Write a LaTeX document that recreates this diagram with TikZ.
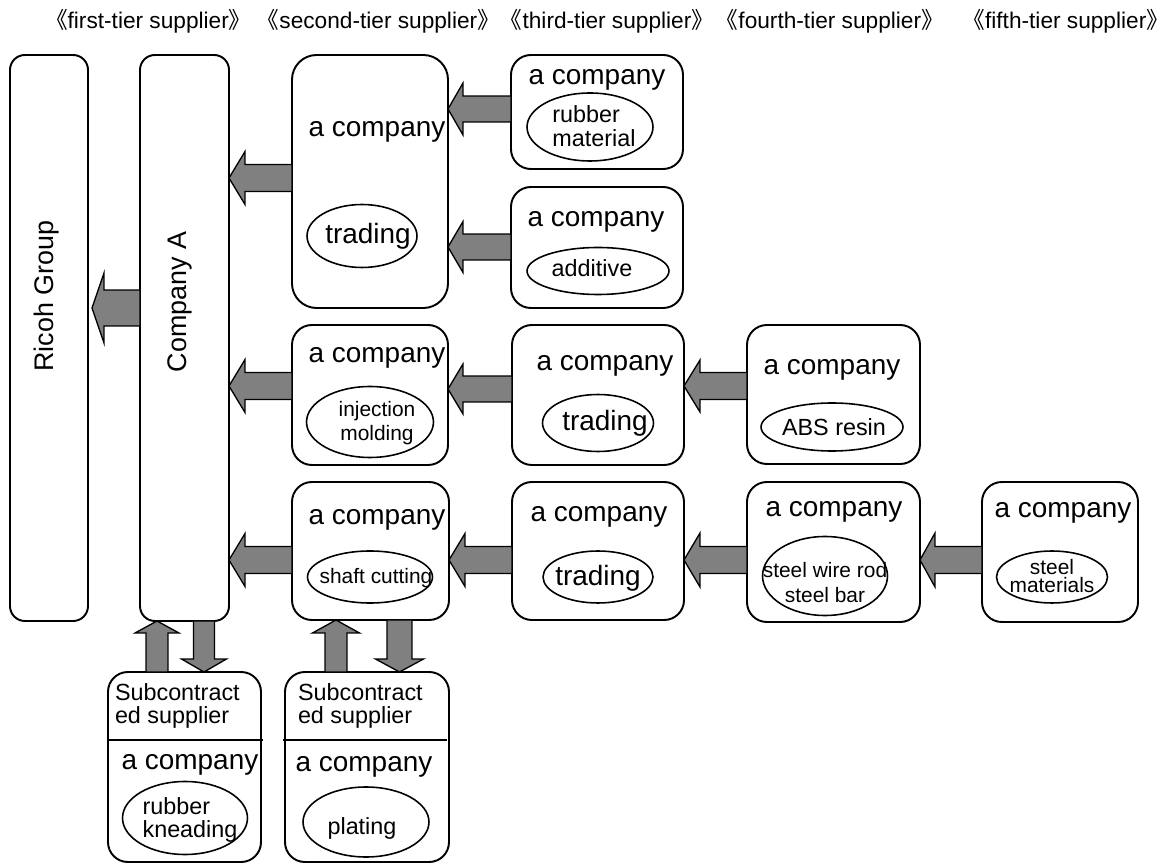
\documentclass[tikz,border=0pt]{standalone}
\usepackage{fontspec}
\setmainfont{Liberation Sans}
\newfontfamily\cjk{Noto Sans CJK SC}
\usetikzlibrary{fit,calc,shapes.geometric}
\definecolor{arrowgray}{HTML}{808080}
\newcommand\fbig{\fontsize{15.9pt}{18pt}\selectfont}
\newcommand\fvert{\fontsize{15.3pt}{18pt}\selectfont}
\newcommand\fmid{\fontsize{13.3pt}{13.6pt}\selectfont}
\newcommand\fsml{\fontsize{11.9pt}{13.6pt}\selectfont}
\newcommand\fhdr{\fontsize{12.9pt}{14pt}\selectfont}
\def\pu{0.56693pt}
% left-pointing block arrow: from, to, y, body half, head half, head length, gap (px)
\newcommand\lblk[7]{%
  \draw[blk] let \p1=($(#2.east)+(#7,0)$), \p2=(#1.west), \p3=(0,#3) in
  (\x1,\y3) -- (\x1+#6*\pu,\y3+#5*\pu) -- (\x1+#6*\pu,\y3+#4*\pu) -- (\x2,\y3+#4*\pu)
  -- (\x2,\y3-#4*\pu) -- (\x1+#6*\pu,\y3-#4*\pu) -- (\x1+#6*\pu,\y3-#5*\pu) -- cycle;}
% upward block arrow: from (below), to (above), x, body half, head half, head length
\newcommand\ublk[6]{%
  \draw[blk] let \p1=(#2.south), \p2=(#1.north), \p3=(#3,0) in
  (\x3,\y1) -- (\x3+#5*\pu,\y1-#6*\pu) -- (\x3+#4*\pu,\y1-#6*\pu) -- (\x3+#4*\pu,\y2)
  -- (\x3-#4*\pu,\y2) -- (\x3-#4*\pu,\y1-#6*\pu) -- (\x3-#5*\pu,\y1-#6*\pu) -- cycle;}
% downward block arrow: from (above), to (below), x, body half, head half, head length
\newcommand\dblk[6]{%
  \draw[blk] let \p1=(#2.north), \p2=(#1.south), \p3=(#3,0) in
  (\x3,\y1) -- (\x3+#5*\pu,\y1+#6*\pu) -- (\x3+#4*\pu,\y1+#6*\pu) -- (\x3+#4*\pu,\y2)
  -- (\x3-#4*\pu,\y2) -- (\x3-#4*\pu,\y1+#6*\pu) -- (\x3-#5*\pu,\y1+#6*\pu) -- cycle;}
\begin{document}
\begin{tikzpicture}[x=0.02cm,y=-0.02cm,
  box/.style={draw=black, line width=1.1pt, inner sep=0pt, outer sep=0pt, rounded corners=11.3pt},
  tallbox/.style={box, rounded corners=8.5pt},
  bigbox/.style={box, rounded corners=14pt},
  ell/.style={draw=black, ellipse, line width=0.9pt, inner sep=0pt, outer sep=0pt},
  txt/.style={inner sep=0pt, outer sep=0pt, font=\fbig},
  stxt/.style={inner sep=0pt, outer sep=0pt, font=\fsml, align=center},
  mtxt/.style={inner sep=0pt, outer sep=0pt, font=\fmid, align=center},
  hdr/.style={inner sep=0pt, outer sep=0pt, font=\fhdr, anchor=west},
  blk/.style={draw=black, fill=arrowgray, line width=0.75pt, line join=miter},
  divider/.style={draw=black, line width=1.1pt}]
\useasboundingbox (0,0) rectangle (1170,864);

% header
\node[hdr] (h1) at (45,21) {{\cjk 《}first-tier supplier{\cjk 》}};
\node[hdr] (h2) at ([xshift=3pt]h1.east) {{\cjk 《}second-tier supplier{\cjk 》}};
\node[hdr] (h3) at (h2.east) {{\cjk 《}third-tier supplier{\cjk 》}};
\node[hdr] (h4) at ([xshift=1pt]h3.east) {{\cjk 《}fourth-tier supplier{\cjk 》}};
\node[hdr, anchor=east] (h5) at (1169,21) {{\cjk 《}fifth-tier supplier{\cjk 》}};

% boxes
\node[tallbox, fit={(10,55) (88,621)}] (ricoh) {};
\node[tallbox, fit={(140,55) (229,621)}] (compA) {};
\node[bigbox, fit={(292,55) (448,308)}] (trad1) {};
\node[box, fit={(511,55) (683,169)}] (rub) {};
\node[box, fit={(511,187) (683,308)}] (add) {};
\node[box, fit={(292,325) (448,465)}] (inj) {};
\node[box, fit={(512,325) (684,465)}] (tr2) {};
\node[box, fit={(747,325) (920,464)}] (abs) {};
\node[box, fit={(292,482) (449,620)}] (shaft) {};
\node[box, fit={(512,482) (684,620)}] (tr3) {};
\node[box, fit={(747,482) (920,622)}] (wire) {};
\node[box, fit={(982,482) (1138,622)}] (steel) {};
\node[box, fit={(108,672) (261,862)}] (sub1) {};
\node[box, fit={(285,672) (449,862)}] (sub2) {};
\draw[divider] (108,740) -- (263,740);
\draw[divider] (283,740) -- (447,740);

% vertical labels
\node[txt, font=\fvert, rotate=90] (tricoh) at (47,296) {Ricoh Group};
\node[txt, font=\fvert, rotate=90] (tcompA) at (180,302) {Company A};

% "a company" labels
\node[txt] (ttrad1) at (377,132) {a company};
\node[txt] (trub) at (597,80) {a company};
\node[txt] (tadd) at (596,222) {a company};
\node[txt] (tinj) at (377,358) {a company};
\node[txt] (ttr2) at (605,366) {a company};
\node[txt] (tabs) at (832,370) {a company};
\node[txt] (tshaft) at (377,520) {a company};
\node[txt] (ttr3) at (599,517) {a company};
\node[txt] (twire) at (834,512) {a company};
\node[txt] (tsteel) at (1063,513) {a company};
\node[txt] (tsub1) at (190,765) {a company};
\node[txt] (tsub2) at (364,767) {a company};
\node[inner sep=0pt, outer sep=0pt, font=\fmid, align=left, anchor=west] (sc1) at (115,706) {Subcontract\\ed supplier};
\node[inner sep=0pt, outer sep=0pt, font=\fmid, align=left, anchor=west] (sc2) at (298,706) {Subcontract\\ed supplier};

% ellipses
\node[ell, minimum width=2.2cm, minimum height=1.26cm] (e1) at (362,236) {};
\node[ell, minimum width=2.52cm, minimum height=1.36cm] (erub) at (590,127) {};
\node[ell, minimum width=2.84cm, minimum height=0.94cm] (eadd) at (598,271) {};
\node[ell, minimum width=2.54cm, minimum height=1.42cm] (einj) at (370,422) {};
\node[ell, minimum width=2.22cm, minimum height=1.14cm] (etr2) at (598,423) {};
\node[ell, minimum width=2.84cm, minimum height=0.96cm] (eabs) at (832,427) {};
\node[ell, minimum width=2.5cm, minimum height=1.58cm] (ewire) at (825,576) {};
\node[ell, minimum width=2.22cm, minimum height=1.04cm] (esteel) at (1052,577) {};
\node[ell, minimum width=2.5cm, minimum height=1.04cm] (eshaft) at (370,577) {};
\node[ell, minimum width=2.2cm, minimum height=1.04cm] (etr3) at (598,577) {};
\node[ell, minimum width=2.5cm, minimum height=1.46cm] (esub1) at (185,818) {};
\node[ell, minimum width=2.52cm, minimum height=1.4cm] (esub2) at (366,822) {};

% ellipse texts
\node[txt] (l1) at (368,236) {trading};
\node[mtxt, align=left] (lrub) at (594,126) {rubber\\material};
\node[mtxt] (ladd) at (592,268) {additive};
\node[stxt] (linj) at (377,423) {injection\\molding};
\node[txt] (ltr2) at (605,423) {trading};
\node[mtxt] (labs) at (834,427) {ABS resin};
\node[stxt, font=\fontsize{11.9pt}{14.2pt}\selectfont] (lwire) at (825,583) {steel wire rod\\steel bar};
\node[stxt, font=\fontsize{11.9pt}{10.6pt}\selectfont] (lsteel) at (1052,576) {steel\\materials};
\node[stxt] (lshaft) at (376,578) {shaft cutting};
\node[txt] (ltr3) at (598,578) {trading};
\node[mtxt, align=left] (lsub1) at (190,820) {rubber\\kneading};
\node[mtxt] (lsub2) at (362,828) {plating};

% block arrows
\lblk{compA}{ricoh}{308}{18}{35}{12}{4}
\lblk{trad1}{compA}{178}{13.5}{26.5}{16}{0}
\lblk{rub}{trad1}{109}{13}{26}{15}{0}
\lblk{add}{trad1}{247}{13}{25.5}{15}{0}
\lblk{inj}{compA}{386}{13.5}{26.5}{16}{0}
\lblk{tr2}{inj}{389}{13}{25}{15}{0}
\lblk{abs}{tr2}{386}{13.5}{26}{16}{0}
\lblk{shaft}{compA}{560}{13.5}{26.5}{16}{0}
\lblk{tr3}{shaft}{560}{13.5}{26.5}{16}{0}
\lblk{wire}{tr3}{560}{13.5}{27}{16}{0}
\lblk{steel}{wire}{560}{13.5}{27}{15}{0}
\ublk{sub1}{compA}{157}{11}{22}{12}
\dblk{compA}{sub1}{204}{10.5}{22.5}{13}
\ublk{sub2}{shaft}{336}{11}{23.5}{13}
\dblk{shaft}{sub2}{399.5}{12.5}{24}{13}
\end{tikzpicture}
\end{document}
